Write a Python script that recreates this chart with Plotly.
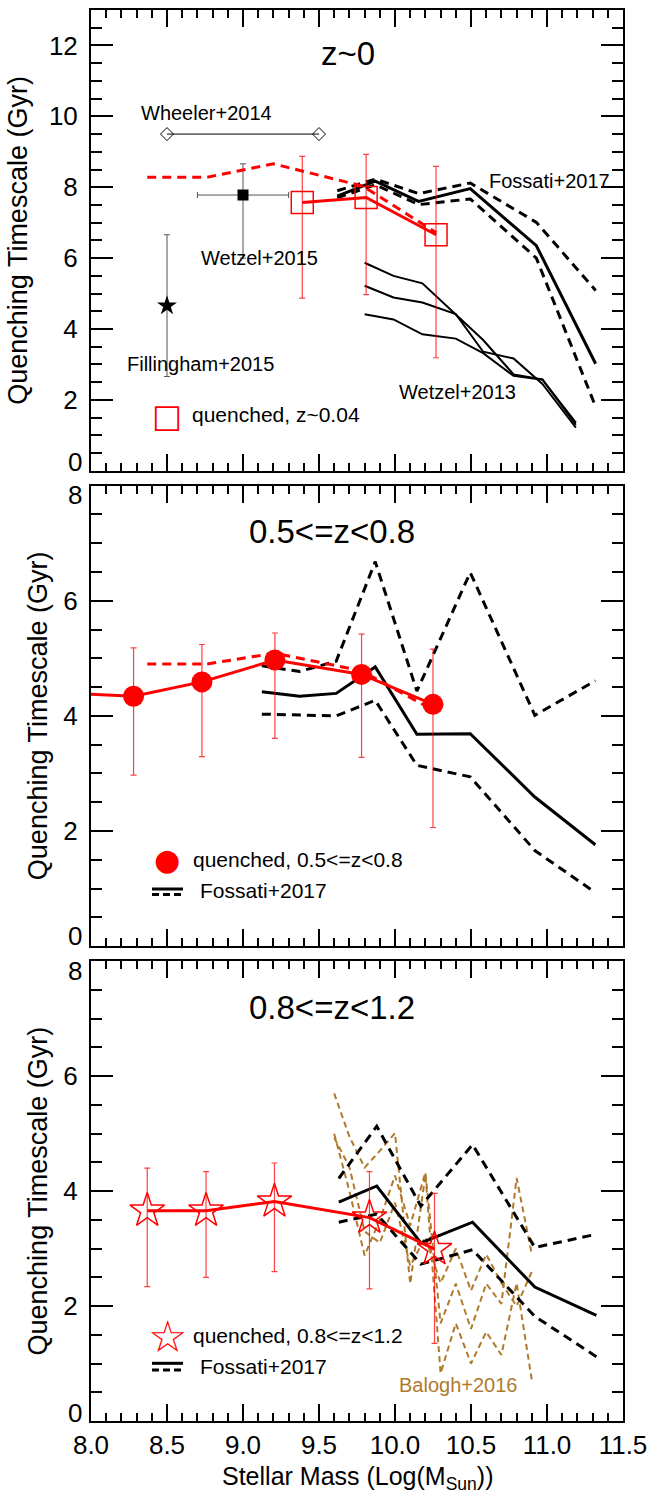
import plotly.graph_objects as go
from plotly.subplots import make_subplots

FONT = "Liberation Sans, Arial, Helvetica, sans-serif"
RED = "#FF0000"
ERR_RED = "rgba(255,0,0,0.75)"
BROWN = "#B07A2C"

# ---------------- data : panel 1 (z~0) ----------------
q0_x = [9.39, 9.81, 10.27]
q0_y = [7.57, 7.71, 6.66]
q0_up = [1.30, 1.22, 1.93]
q0_dn = [2.70, 2.74, 3.47]
q0_dash_x = [8.37, 8.76, 9.20, 9.79, 10.27]
q0_dash_y = [8.28, 8.28, 8.66, 8.03, 6.72]

foss0_x = [9.62, 9.87, 10.155, 10.495, 10.93, 11.32]
foss0_mid = [7.75, 8.17, 7.60, 7.96, 6.35, 3.02]
foss0_hi = [7.90, 8.23, 7.82, 8.12, 7.01, 5.09]
foss0_lo = [7.70, 8.07, 7.51, 7.67, 6.00, 1.81]

wet13_x = [9.80, 9.99, 10.18, 10.40, 10.58, 10.78, 10.97, 11.19]
wet13_a = [5.87, 5.50, 5.29, 4.40, 3.69, 2.72, 2.58, 1.30]
wet13_b = [5.22, 4.89, 4.75, 4.42, 3.36, 3.17, 2.45, 1.22]
wet13_c = [4.42, 4.27, 3.85, 3.73, 3.32, 2.68, 2.57, 1.36]

wheeler_x = [8.5, 9.5]
wheeler_y = [9.5, 9.5]
wet15_x = [9.0]
wet15_y = [7.78]
wet15_xerr = [0.3]
wet15_up = [0.88]
wet15_dn = [1.78]
fill_x = [8.5]
fill_y = [4.66]
fill_err = [2.0]

# ---------------- data : panel 2 (0.5<=z<0.8) ----------------
q1_x = [7.83, 8.28, 8.73, 9.21, 9.78, 10.25]
q1_y = [4.40, 4.34, 4.59, 4.97, 4.72, 4.20]
q1_up = [0.84, 0.65, 0.47, 0.70, 0.96]
q1_dn = [1.37, 1.30, 1.36, 1.44, 2.14]
q1_dash_x = [8.37, 8.76, 9.21, 9.78, 10.21]
q1_dash_y = [4.90, 4.90, 5.09, 4.78, 4.16]

foss1_x = [9.124, 9.372, 9.613, 9.87, 10.144, 10.495, 10.92, 11.318]
foss1_mid = [4.42, 4.34, 4.39, 4.85, 3.68, 3.69, 2.59, 1.76]
foss1_hi = [4.87, 4.77, 4.95, 6.68, 4.43, 6.49, 4.01, 4.61]
foss1_lo = [4.03, 4.02, 4.00, 4.27, 3.14, 2.94, 1.66, 0.93]

# ---------------- data : panel 3 (0.8<=z<1.2) ----------------
q2_x = [8.37, 8.757, 9.207, 9.832, 10.26]
q2_y = [3.66, 3.66, 3.82, 3.54, 2.99]
q2_up = [0.74, 0.68, 0.67, 0.80, 0.97]
q2_dn = [1.32, 1.16, 1.22, 1.24, 1.64]

foss2_x = [9.63, 9.88, 10.17, 10.51, 10.92, 11.325]
foss2_mid = [3.81, 4.09, 3.10, 3.46, 2.33, 1.84]
foss2_hi = [4.22, 5.13, 3.74, 4.81, 3.02, 3.25]
foss2_lo = [3.46, 3.60, 2.73, 2.98, 1.82, 1.12]

bal_x = [9.6, 9.7, 9.8, 9.9, 10.0, 10.1, 10.2, 10.3, 10.4, 10.5, 10.6, 10.7, 10.8, 10.9]
bal_1 = [5.70, 4.95, 4.41, 4.70, 5.01, 2.39, 4.29, 0.83, 1.70, 1.00, 1.55, 1.15, 2.40, 0.71]
bal_2 = [5.00, 4.00, 2.88, 3.50, 4.27, 3.40, 4.33, 1.70, 2.39, 1.60, 2.39, 2.04, 4.23, 2.90]
bal_3 = [4.93, 4.42, 3.30, 3.10, 3.80, 2.70, 3.20, 2.40, 3.00, 2.27, 2.90, 2.40, 2.00, 2.60]

x_ticks = [8.0, 8.5, 9.0, 9.5, 10.0, 10.5, 11.0, 11.5]
y_ticks = [[2, 4, 6, 8, 10, 12], [2, 4, 6], [2, 4, 6]]

# ---------------- figure ----------------
fig = make_subplots(rows=3, cols=1)

def line(row, x, y, color, width, dash=None):
    fig.add_trace(go.Scatter(x=x, y=y, mode="lines",
                             line=dict(color=color, width=width, dash=dash),
                             showlegend=False, hoverinfo="skip"), row=row, col=1)

DASH = "9px,6px"

# panel 1
for yy in (wet13_a, wet13_b, wet13_c):
    line(1, wet13_x, yy, "black", 2)
line(1, foss0_x, foss0_hi, "black", 3, DASH)
line(1, foss0_x, foss0_lo, "black", 3, DASH)
line(1, foss0_x, foss0_mid, "black", 3)
fig.add_trace(go.Scatter(x=wheeler_x, y=wheeler_y, mode="lines+markers",
                         line=dict(color="black", width=1),
                         marker=dict(symbol="diamond-open", size=10, color="black", line=dict(width=1)),
                         showlegend=False), row=1, col=1)
fig.add_trace(go.Scatter(x=wet15_x, y=wet15_y, mode="markers",
                         marker=dict(symbol="square", size=11, color="black"),
                         error_x=dict(type="data", array=wet15_xerr, color="#555555", thickness=1, width=3),
                         error_y=dict(type="data", array=wet15_up, arrayminus=wet15_dn, color="#555555", thickness=1, width=3),
                         showlegend=False), row=1, col=1)
fig.add_trace(go.Scatter(x=fill_x, y=fill_y, mode="markers",
                         marker=dict(symbol="star", size=15, color="black"),
                         error_y=dict(type="data", array=fill_err, color="#555555", thickness=1, width=3),
                         showlegend=False), row=1, col=1)
line(1, q0_dash_x, q0_dash_y, RED, 3, DASH)
line(1, q0_x, q0_y, RED, 3)
fig.add_trace(go.Scatter(x=q0_x, y=q0_y, mode="markers",
                         marker=dict(symbol="square-open", size=22, color=RED, line=dict(width=1.5, color=RED)),
                         error_y=dict(type="data", array=q0_up, arrayminus=q0_dn, color=ERR_RED, thickness=1.2, width=3),
                         showlegend=False), row=1, col=1)

# panel 2
line(2, foss1_x, foss1_hi, "black", 3, DASH)
line(2, foss1_x, foss1_lo, "black", 3, DASH)
line(2, foss1_x, foss1_mid, "black", 3)
line(2, q1_dash_x, q1_dash_y, RED, 3, DASH)
line(2, q1_x, q1_y, RED, 3)
fig.add_trace(go.Scatter(x=q1_x[1:], y=q1_y[1:], mode="markers",
                         marker=dict(symbol="circle", size=21, color=RED),
                         error_y=dict(type="data", array=q1_up, arrayminus=q1_dn, color=ERR_RED, thickness=1.2, width=3),
                         showlegend=False), row=2, col=1)

# panel 3
for yy in (bal_1, bal_2, bal_3):
    line(3, bal_x, yy, BROWN, 2, "6px,4px")
line(3, foss2_x, foss2_hi, "black", 3, DASH)
line(3, foss2_x, foss2_lo, "black", 3, DASH)
line(3, foss2_x, foss2_mid, "black", 3)
line(3, q2_x, q2_y, RED, 3)
fig.add_trace(go.Scatter(x=q2_x, y=q2_y, mode="markers",
                         marker=dict(symbol="star-open", size=26, color=RED, line=dict(width=1.5, color=RED)),
                         error_y=dict(type="data", array=q2_up, arrayminus=q2_dn, color=ERR_RED, thickness=1.2, width=3),
                         showlegend=False), row=3, col=1)

# ---------------- axes ----------------
W, H = 652, 1495
ML, MR, MT, MB = 91, 29, 10, 74
domains = [[0.6734, 1.0], [0.3366, 0.6629], [0.0, 0.3258]]
yranges = [[0, 13], [0, 8], [0, 8]]
title_standoff = [13, 8, 8]

tickfont = dict(family=FONT, size=26, color="black")
for i in range(3):
    xa = dict(range=[8, 11.5], tickvals=x_ticks, ticktext=[f"{v:.1f}" for v in x_ticks],
              ticks="inside", ticklen=17, tickwidth=2, tickcolor="black",
              minor=dict(dtick=0.1, tick0=8, ticks="inside", ticklen=8, tickwidth=1.5, tickcolor="black", showgrid=False),
              mirror="allticks", showline=True, linewidth=2, linecolor="black",
              showgrid=False, zeroline=False, showticklabels=(i == 2), tickfont=tickfont,
              ticklabelstandoff=0)
    ya = dict(range=yranges[i], domain=domains[i], tickvals=y_ticks[i],
              ticks="inside", ticklen=22, tickwidth=2, tickcolor="black",
              minor=dict(dtick=0.5, tick0=0, ticks="inside", ticklen=11, tickwidth=1.5, tickcolor="black", showgrid=False),
              mirror="allticks", showline=True, linewidth=2, linecolor="black",
              showgrid=False, zeroline=False, tickfont=tickfont, ticklabelstandoff=6,
              title=dict(text="Quenching Timescale (Gyr)", font=dict(family=FONT, size=27, color="black"),
                         standoff=title_standoff[i]))
    sfx = "" if i == 0 else str(i + 1)
    fig.layout["xaxis" + sfx].update(xa)
    fig.layout["yaxis" + sfx].update(ya)

# ---------------- annotations ----------------
ann = []
def txt(text, x, y, xref, yref, size, color="black", xanchor="center", family=FONT, yanchor="middle"):
    ann.append(dict(text=text, x=x, y=y, xref=xref, yref=yref, showarrow=False,
                    xanchor=xanchor, yanchor=yanchor,
                    font=dict(family=family, size=size, color=color)))

txt("z~0", 9.69, 11.78, "x", "y", 33)
txt("Wheeler+2014", 8.757, 10.1, "x", "y", 20)
txt("Wetzel+2015", 9.11, 6.0, "x", "y", 20)
txt("Fillingham+2015", 8.718, 3.01, "x", "y", 20)
txt("Fossati+2017", 11.015, 8.19, "x", "y", 20)
txt("Wetzel+2013", 10.41, 2.22, "x", "y", 20)
txt("0.5<=z<0.8", 9.585, 7.21, "x2", "y2", 33)
txt("0.8<=z<1.2", 9.586, 7.2, "x3", "y3", 33)
txt("Balogh+2016", 10.416, 0.63, "x3", "y3", 20, BROWN)

def px2paper(px, py):
    return (px - ML) / (W - ML - MR), (H - MB - py) / (H - MT - MB)

# x-axis title, kept fully inside the page
tx, ty = px2paper(357, 1495)
ann.append(dict(text="Stellar Mass (Log(M<sub>Sun</sub>))", x=tx, y=ty, xref="paper", yref="paper",
                showarrow=False, xanchor="center", yanchor="bottom", borderpad=0,
                font=dict(family=FONT, size=25, color="black")))

# y end labels, nudged inside the frame
for label, py in (("0", 461.5), ("8", 494.5), ("0", 936.5), ("8", 970.5), ("0", 1412.5)):
    ex, ey = px2paper(84, py)
    ann.append(dict(text=label, x=ex, y=ey, xref="paper", yref="paper", showarrow=False,
                    xanchor="right", yanchor="middle", font=tickfont))

# legends (glyphs + text)
lx, ly = px2paper(190, 414)
txt("quenched, z~0.04", lx, ly, "paper", "paper", 21, xanchor="left")
gx, gy = px2paper(167, 416)
txt("\u25A1", gx, gy, "paper", "paper", 32, RED, family="DejaVu Sans")

lx, ly = px2paper(190.7, 859)
txt("quenched, 0.5<=z<0.8", lx, ly, "paper", "paper", 21, xanchor="left")
gx, gy = px2paper(166.7, 860)
txt("\u25CF", gx, gy, "paper", "paper", 30, RED, family="DejaVu Sans")
lx, ly = px2paper(198, 890)
txt("Fossati+2017", lx, ly, "paper", "paper", 21, xanchor="left")

lx, ly = px2paper(190.7, 1335)
txt("quenched, 0.8<=z<1.2", lx, ly, "paper", "paper", 21, xanchor="left")
gx, gy = px2paper(167, 1336)
txt("\u2606", gx, gy, "paper", "paper", 44, RED, family="DejaVu Sans")
lx, ly = px2paper(198, 1366.7)
txt("Fossati+2017", lx, ly, "paper", "paper", 21, xanchor="left")

shapes = []
for ys, yd in ((889, 894.5), (1363.3, 1370)):
    x0, y0 = px2paper(152, ys)
    x1, _ = px2paper(183, ys)
    shapes.append(dict(type="line", xref="paper", yref="paper", x0=x0, x1=x1, y0=y0, y1=y0,
                       line=dict(color="black", width=3)))
    _, y2 = px2paper(152, yd)
    shapes.append(dict(type="line", xref="paper", yref="paper", x0=x0, x1=x1, y0=y2, y1=y2,
                       line=dict(color="black", width=3, dash="7px,4px")))

fig.update_layout(width=W, height=H, margin=dict(l=ML, r=MR, t=MT, b=MB, autoexpand=False),
                  paper_bgcolor="white", plot_bgcolor="white", showlegend=False,
                  annotations=ann, shapes=shapes, font=dict(family=FONT, color="black"))

fig.write_html("out.html")
